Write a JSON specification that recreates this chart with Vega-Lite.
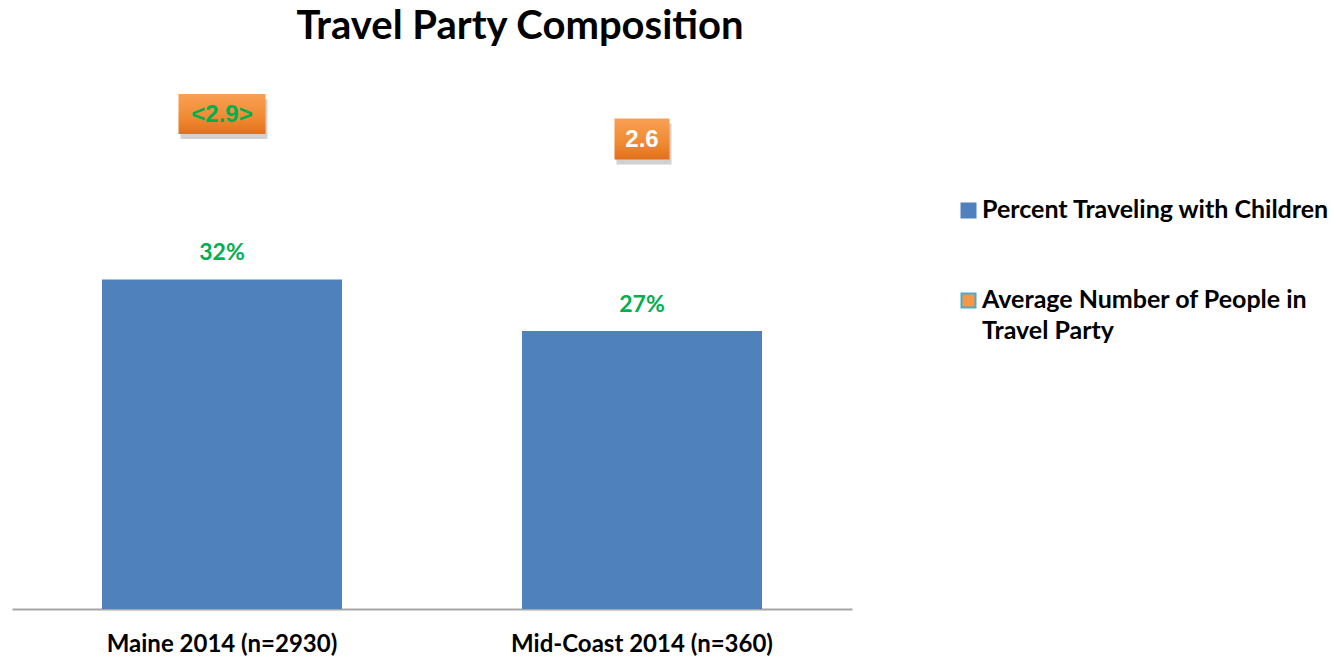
{
  "$schema": "https://vega.github.io/schema/vega-lite/v6.json",
  "width": 840,
  "height": 515,
  "autosize": {"type": "none"},
  "padding": {"left": 12, "top": 94, "right": 484, "bottom": 51},
  "background": "white",
  "title": {
    "text": "Travel Party Composition",
    "font": "Lato",
    "fontSize": 40,
    "fontWeight": "bold",
    "color": "black",
    "anchor": "middle",
    "dx": 88,
    "offset": 47
  },
  "config": {"view": {"stroke": null}},
  "data": {
    "values": [
      {"region": "Maine 2014 (n=2930)", "pct": 32, "pctLabel": "32%", "avg": 2.9, "avgLabel": "<2.9>", "series": "Percent Traveling with Children"},
      {"region": "Mid-Coast 2014 (n=360)", "pct": 27, "pctLabel": "27%", "avg": 2.6, "avgLabel": "2.6", "series": "Percent Traveling with Children"}
    ]
  },
  "encoding": {
    "x": {
      "field": "region",
      "type": "nominal",
      "sort": null,
      "scale": {"paddingInner": 0, "paddingOuter": 0},
      "axis": {
        "title": null,
        "labelAngle": 0,
        "labelFont": "Lato",
        "labelFontSize": 24,
        "labelFontWeight": "bold",
        "labelColor": "black",
        "labelLimit": 400,
        "labelPadding": 23,
        "ticks": false,
        "domainColor": "#A6A6A6",
        "domainWidth": 2,
        "grid": false
      }
    }
  },
  "layer": [
    {
      "mark": {"type": "bar", "width": 240},
      "encoding": {
        "y": {"field": "pct", "type": "quantitative", "scale": {"domain": [0, 50]}, "axis": null},
        "color": {
          "field": "series",
          "type": "nominal",
          "scale": {
            "domain": ["Percent Traveling with Children", "Average Number of People in Travel Party"],
            "range": ["#4F81BD", "#F79646"]
          },
          "legend": {
            "title": null,
            "orient": "none",
            "legendX": 944,
            "legendY": 104,
            "symbolType": "square",
            "symbolSize": 196,
            "symbolStrokeWidth": 2,
            "labelFont": "Lato",
            "labelFontSize": 25,
            "labelFontWeight": "bold",
            "labelColor": "black",
            "labelLimit": 420,
            "labelBaseline": "top",
            "labelOffset": 1,
            "rowPadding": 64,
            "labelExpr": "datum.label == 'Average Number of People in Travel Party' ? ['Average Number of People in', 'Travel Party'] : datum.label",
            "encode": {
              "labels": {"update": {"dy": {"value": -13}, "lineHeight": {"value": 31}}},
              "symbols": {
                "update": {
                  "stroke": {"signal": "datum.value == 'Average Number of People in Travel Party' ? '#4BACC6' : '#4F81BD'"}
                }
              }
            }
          }
        }
      }
    },
    {
      "mark": {"type": "text", "baseline": "alphabetic", "dy": -19, "font": "Lato", "fontSize": 23, "fontWeight": "bold", "color": "#00B050"},
      "encoding": {
        "y": {"field": "pct", "type": "quantitative", "scale": {"domain": [0, 50]}, "axis": null},
        "text": {"field": "pctLabel"}
      }
    },
    {
      "mark": {"type": "point", "filled": true, "color": "#9a9a9a", "opacity": 0.45, "xOffset": 2, "yOffset": 5, "size": 7569, "strokeWidth": 0},
      "encoding": {
        "y": {"field": "avg", "type": "quantitative", "scale": {"domain": [-3.04, 3.14]}, "axis": null},
        "shape": {
          "field": "region",
          "type": "nominal",
          "scale": {
            "domain": ["Maine 2014 (n=2930)", "Mid-Coast 2014 (n=360)"],
            "range": ["M-1,-0.46L1,-0.46L1,0.46L-1,0.46Z", "M-0.632,-0.471L0.632,-0.471L0.632,0.471L-0.632,0.471Z"]
          },
          "legend": null
        }
      }
    },
    {
      "mark": {
        "type": "point",
        "filled": true,
        "size": 7569,
        "opacity": 1,
        "strokeWidth": 0,
        "fill": {
          "gradient": "linear",
          "x1": 0, "y1": 0, "x2": 0, "y2": 1,
          "stops": [
            {"offset": 0, "color": "#F9A053"},
            {"offset": 0.6, "color": "#F08A32"},
            {"offset": 1, "color": "#E2701C"}
          ]
        }
      },
      "encoding": {
        "y": {"field": "avg", "type": "quantitative", "scale": {"domain": [-3.04, 3.14]}, "axis": null},
        "shape": {
          "field": "region",
          "type": "nominal",
          "scale": {
            "domain": ["Maine 2014 (n=2930)", "Mid-Coast 2014 (n=360)"],
            "range": ["M-1,-0.46L1,-0.46L1,0.46L-1,0.46Z", "M-0.632,-0.471L0.632,-0.471L0.632,0.471L-0.632,0.471Z"]
          },
          "legend": null
        }
      }
    },
    {
      "mark": {"type": "text", "baseline": "middle", "dy": 1, "font": "Liberation Sans", "fontSize": 24, "fontWeight": "bold"},
      "encoding": {
        "y": {"field": "avg", "type": "quantitative", "scale": {"domain": [-3.04, 3.14]}, "axis": null},
        "text": {"field": "avgLabel"},
        "color": {
          "condition": {"test": "datum.region == 'Maine 2014 (n=2930)'", "value": "#00B050"},
          "value": "white"
        }
      }
    }
  ],
  "resolve": {"scale": {"y": "independent", "shape": "shared"}}
}
